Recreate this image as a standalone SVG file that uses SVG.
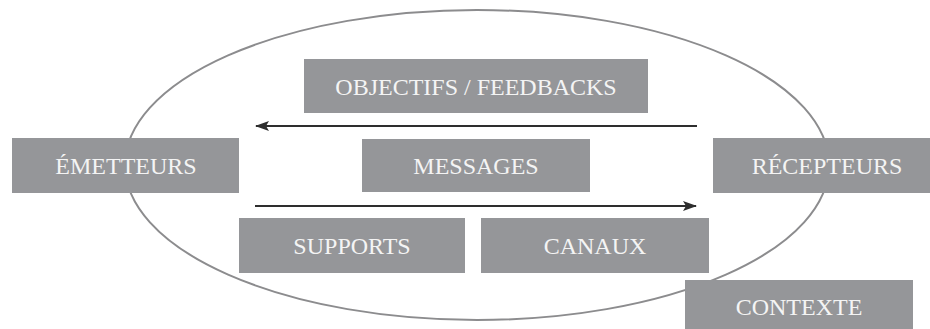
<svg xmlns="http://www.w3.org/2000/svg" width="930" height="329" viewBox="0 0 930 329">
<style>
.box{fill:#959699}
.lbl{fill:#f4f4f4;font-family:"Liberation Serif","Times New Roman",serif;font-size:24px;text-anchor:middle}
.arr{stroke:#2e2e2e;stroke-width:2.2;fill:none}
</style>
<defs>
<marker id="ah" viewBox="0 0 14 10" refX="13" refY="5" markerWidth="14" markerHeight="10" markerUnits="userSpaceOnUse" orient="auto">
<path d="M0,0 L14,5 L0,10 L3,5 Z" fill="#2e2e2e"/>
</marker>
</defs>
<ellipse cx="477" cy="165" rx="352" ry="155" fill="none" stroke="#8c8c8e" stroke-width="2"/>
<g id="connectors">
<line class="arr" x1="697" y1="126" x2="256" y2="126" marker-end="url(#ah)"/>
<line class="arr" x1="255" y1="206" x2="696" y2="206" marker-end="url(#ah)"/>
</g>
<g id="emetteurs"><rect class="box" x="12" y="138" width="227" height="55"/><text class="lbl" x="126" y="174">ÉMETTEURS</text></g>
<g id="objectifs"><rect class="box" x="304" y="59" width="344" height="54"/><text class="lbl" x="476" y="95">OBJECTIFS / FEEDBACKS</text></g>
<g id="messages"><rect class="box" x="362" y="139" width="228" height="53"/><text class="lbl" x="476" y="174">MESSAGES</text></g>
<g id="recepteurs"><rect class="box" x="713" y="138" width="217" height="55"/><text class="lbl" x="827" y="174">RÉCEPTEURS</text></g>
<g id="supports"><rect class="box" x="239" y="218" width="226" height="55"/><text class="lbl" x="352" y="254">SUPPORTS</text></g>
<g id="canaux"><rect class="box" x="481" y="218" width="228" height="55"/><text class="lbl" x="595" y="254">CANAUX</text></g>
<g id="contexte"><rect class="box" x="685" y="280" width="228" height="49"/><text class="lbl" x="799" y="315">CONTEXTE</text></g>
</svg>
